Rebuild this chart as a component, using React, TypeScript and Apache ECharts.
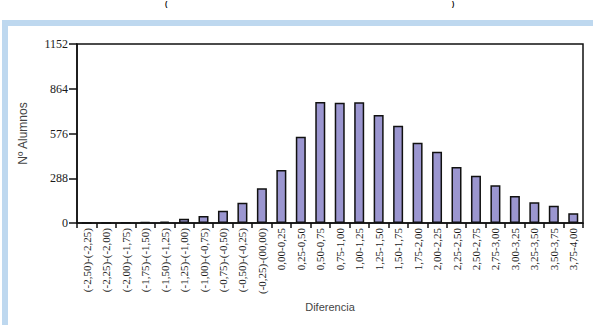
import React, { useEffect, useRef } from "react";
import * as echarts from "echarts";

const categories = [
  "(-2,50)-(-2,25)", "(-2,25)-(-2,00)", "(-2,00)-(-1,75)", "(-1,75)-(-1,50)",
  "(-1,50)-(-1,25)", "(-1,25)-(-1,00)", "(-1,00)-(-0,75)", "(-0,75)-(-0,50)",
  "(-0,50)-(-0,25)", "(-0,25)-(00,00)", "0,00-0,25", "0,25-0,50", "0,50-0,75",
  "0,75-1,00", "1,00-1,25", "1,25-1,50", "1,50-1,75", "1,75-2,00", "2,00-2,25",
  "2,25-2,50", "2,50-2,75", "2,75-3,00", "3,00-3,25", "3,25-3,50", "3,50-3,75",
  "3,75-4,00",
];
const alumnos = [
  1, 1, 4, 5, 9, 28, 45, 79, 131, 223, 341, 555, 779, 774, 777, 695, 626,
  517, 459, 360, 304, 243, 174, 133, 111, 62,
];
const yTicks = [0, 288, 576, 864, 1152];

export default function App() {
  const ref = useRef<HTMLDivElement>(null);
  useEffect(() => {
    const chart = echarts.init(ref.current!, null, { renderer: "svg" });
    chart.setOption({
      animation: false,
      backgroundColor: "#ffffff",
      graphic: [
        { type: "rect", shape: { x: 2, y: 20, width: 591, height: 6 }, style: { fill: "#bed8ef" }, z: -1 },
        { type: "rect", shape: { x: 2, y: 20, width: 6, height: 305 }, style: { fill: "#bed8ef" }, z: -1 },
        { type: "text", x: 165, y: 0, style: { text: "(", fontSize: 7, fontWeight: "bold", fill: "#000", fontFamily: "Liberation Sans" } },
        { type: "text", x: 452, y: 0, style: { text: ")", fontSize: 7, fontWeight: "bold", fill: "#000", fontFamily: "Liberation Sans" } },
      ],
      grid: {
        left: 77, right: 10, top: 44, bottom: 102,
        show: true, borderColor: "#111", borderWidth: 1.5, backgroundColor: "transparent",
      },
      xAxis: {
        type: "category",
        data: categories,
        name: "Diferencia",
        nameLocation: "middle",
        nameGap: 77,
        nameTextStyle: { fontFamily: "Liberation Sans", fontSize: 11, color: "#444" },
        axisLine: { lineStyle: { color: "#111", width: 1.5 } },
        axisTick: { show: true, alignWithLabel: false, length: 5, lineStyle: { color: "#111", width: 1.5 } },
        axisLabel: {
          rotate: 90, interval: 0, margin: 5,
          fontFamily: "Liberation Serif", fontSize: 11, color: "#1a1a1a",
        },
      },
      yAxis: {
        type: "value",
        min: 0, max: 1152, interval: 288,
        name: "Nº Alumnos",
        nameLocation: "middle",
        nameGap: 48,
        nameTextStyle: { fontFamily: "Liberation Sans", fontSize: 12, color: "#444" },
        axisLine: { show: true, lineStyle: { color: "#111", width: 1.5 } },
        axisTick: { show: true, length: 8, lineStyle: { color: "#111", width: 1.5 } },
        splitLine: { show: false },
        axisLabel: {
          margin: 9, fontFamily: "Liberation Serif", fontSize: 12, color: "#1a1a1a",
          formatter: (v: number) => (yTicks.includes(v) ? String(v) : ""),
        },
      },
      series: [
        {
          type: "bar",
          data: alumnos,
          barWidth: 10,
          itemStyle: { color: "#9b96d0", borderColor: "#111", borderWidth: 1.5 },
        },
      ],
    });
    return () => chart.dispose();
  }, []);
  return (
    <div
      ref={ref}
      style={{ position: "absolute", left: 0, top: 0, width: 593, height: 325 }}
    />
  );
}
